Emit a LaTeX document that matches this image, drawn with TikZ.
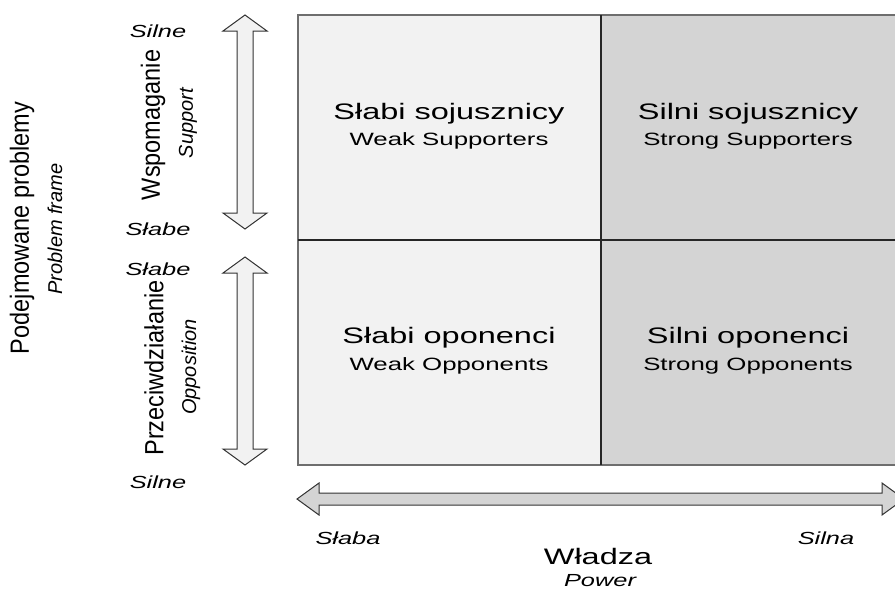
\documentclass[tikz,border=0pt]{standalone}
\usepackage{fontspec}
\setmainfont{Liberation Sans}
\definecolor{lightcell}{HTML}{F2F2F2}
\definecolor{darkcell}{HTML}{D4D4D4}
\definecolor{frameline}{HTML}{6E6E6E}
\newcommand\widetext[1]{\scalebox{1.45}[1]{#1}}
\newcommand\thicktext[1]{\scalebox{1}[1.12]{#1}}
\begin{document}
\begin{tikzpicture}[x=1pt,y=-1pt,
  cellbig/.style={inner sep=0pt, font=\fontsize{22.4}{24}\selectfont},
  cellsmall/.style={inner sep=0pt, font=\fontsize{17.8}{20}\selectfont},
  axislbl/.style={inner sep=0pt, font=\fontsize{17.5}{20}\selectfont\itshape},
  vbig/.style={rotate=90, inner sep=0pt, font=\fontsize{23.5}{26}\selectfont},
  vsmall/.style={rotate=90, inner sep=0pt, font=\fontsize{20}{22}\selectfont\itshape},
  gridline/.style={draw=black!85, line width=1.4pt},
  arrowshape/.style={draw=black!80, line width=1pt, line join=miter}]
\useasboundingbox (0,0) rectangle (895,592);
\clip (0,0) rectangle (895,592);

% quadrants
\fill[lightcell] (298,15) rectangle (601,465);
\fill[darkcell] (601,15) rectangle (905,465);
\draw[draw=frameline, line width=1.4pt] (905,15) -- (298,15) -- (298,465) -- (905,465);
\draw[gridline] (601,15) -- (601,465);
\draw[gridline] (298,240) -- (905,240);

% vertical double arrows
\draw[arrowshape, fill=lightcell]
  (245,15) -- (267,31) -- (253,31) -- (253,213) -- (267,213) -- (245,229)
  -- (223,213) -- (237,213) -- (237,31) -- (223,31) -- cycle;
\draw[arrowshape, fill=lightcell]
  (245,257) -- (267,273) -- (253,273) -- (253,449) -- (267,449) -- (245,465)
  -- (223,449) -- (237,449) -- (237,273) -- (223,273) -- cycle;

% horizontal double arrow
\draw[arrowshape, fill=darkcell]
  (297,499) -- (319,483) -- (319,493) -- (882,493) -- (882,483) -- (904,499)
  -- (882,515) -- (882,505) -- (319,505) -- (319,515) -- cycle;

% quadrant texts
\node[cellbig]   (ws)  at (449,114) {\widetext{Słabi sojusznicy}};
\node[cellsmall] (wse) at (449,141) {\widetext{Weak Supporters}};
\node[cellbig]   (ss)  at (748,114) {\widetext{Silni sojusznicy}};
\node[cellsmall] (sse) at (748,141) {\widetext{Strong Supporters}};
\node[cellbig]   (wo)  at (449,338) {\widetext{Słabi oponenci}};
\node[cellsmall] (woe) at (449,366) {\widetext{Weak Opponents}};
\node[cellbig]   (so)  at (748,338) {\widetext{Silni oponenci}};
\node[cellsmall] (soe) at (748,366) {\widetext{Strong Opponents}};

% scale ends
\node[axislbl] (suptop) at (158,31)  {\widetext{Silne}};
\node[axislbl] (supbot) at (158,229) {\widetext{Słabe}};
\node[axislbl] (opptop) at (158,269) {\widetext{Słabe}};
\node[axislbl] (oppbot) at (158,482) {\widetext{Silne}};
\node[axislbl] (powlo)  at (348,538) {\widetext{Słaba}};
\node[axislbl] (powhi)  at (826,538) {\widetext{Silna}};

% axis titles
\node[cellbig]   (power)   at (598,556) {\widetext{Władza}};
\node[axislbl]   (powere)  at (600,581) {\widetext{Power}};
\node[vbig]   (frame)  at (22,228)  {\thicktext{Podejmowane problemy}};
\node[vsmall] (framee) at (55,229)  {Problem frame};
\node[vbig]   (supp)   at (153,125) {\thicktext{Wspomaganie}};
\node[vsmall] (suppe)  at (188,123) {Support};
\node[vbig]   (opp)    at (154,368) {\thicktext{Przeciwdziałanie}};
\node[vsmall] (oppe)   at (191,367) {Opposition};
\end{tikzpicture}
\end{document}
